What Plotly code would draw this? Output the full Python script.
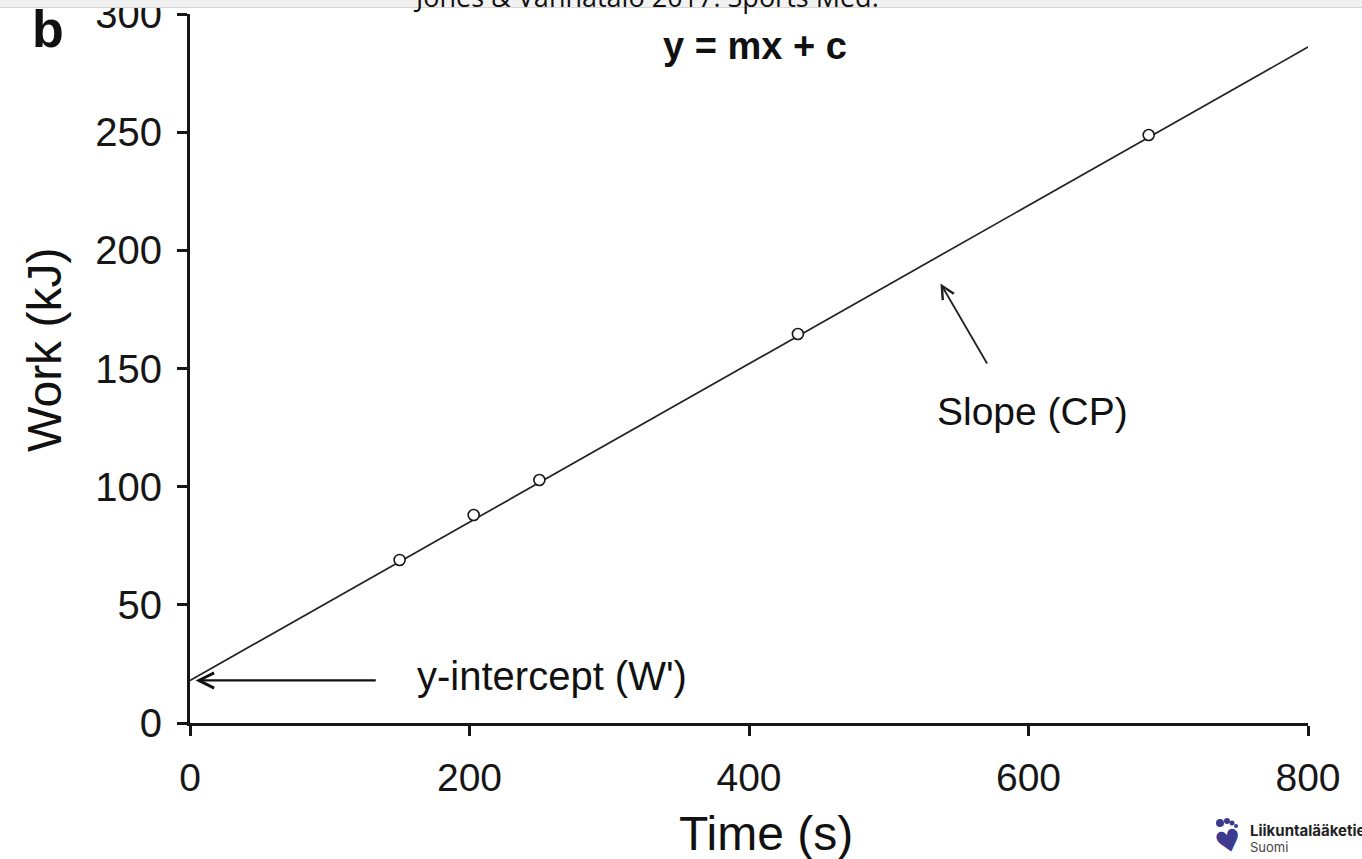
import plotly.graph_objects as go

# ---- data ----
time_s = [150, 203, 250, 435, 686]
work_kj = [69, 88, 102.8, 164.6, 248.8]
fit_time = [0, 800]
fit_work = [18, 286]
x_ticks = [0, 200, 400, 600, 800]
y_ticks = [0, 50, 100, 150, 200, 250, 300]

FONT = "Liberation Sans, Arial, sans-serif"
INK = "#161616"

fig = go.Figure()
fig.add_trace(go.Scatter(x=fit_time, y=fit_work, mode="lines",
                         line=dict(color="#222", width=1.7),
                         hoverinfo="skip", showlegend=False))
fig.add_trace(go.Scatter(x=time_s, y=work_kj, mode="markers",
                         marker=dict(symbol="circle", size=11, color="white",
                                     line=dict(color=INK, width=1.6)),
                         showlegend=False))

W, H = 1362, 859
L, R, T, B = 190, 54, 14, 136
pw, ph = W - L - R, H - T - B

def px(x):
    return (x - L) / pw

def py(y):
    return (H - B - y) / ph

fig.update_layout(
    width=W, height=H,
    margin=dict(l=L, r=R, t=T, b=B, autoexpand=False),
    paper_bgcolor="white", plot_bgcolor="white",
    font=dict(family=FONT, color=INK, size=40),
    xaxis=dict(range=[0, 800], tickvals=x_ticks, ticks="outside", ticklen=10,
               tickwidth=3, tickcolor=INK, showline=True, linewidth=3,
               linecolor=INK, showgrid=False, zeroline=False,
               tickfont=dict(size=39), ticklabelstandoff=8,
               ticklabeloverflow="allow"),
    yaxis=dict(range=[0, 300], tickvals=y_ticks, ticks="outside", ticklen=10,
               tickwidth=3, tickcolor=INK, showline=True, linewidth=3,
               linecolor=INK, showgrid=False, zeroline=False,
               tickfont=dict(size=40), ticklabelstandoff=7,
               ticklabeloverflow="allow"),
)

# grey strip at top of screenshot
fig.add_shape(type="rect", xref="paper", yref="paper",
              x0=px(0), x1=px(W), y0=py(7.5), y1=py(-2),
              fillcolor="#f1f1f1", line=dict(width=0), layer="above")
fig.add_shape(type="line", xref="paper", yref="paper",
              x0=px(0), x1=px(W), y0=py(7.5), y1=py(7.5),
              line=dict(color="#d6d6d6", width=1.2), layer="above")

ann = []
ann.append(dict(text="Time (s)", xref="paper", yref="paper", x=px(766), y=py(833),
                xanchor="center", yanchor="middle", showarrow=False,
                font=dict(size=48, color="#111")))
ann.append(dict(text="Work (kJ)", xref="paper", yref="paper", x=px(44), y=py(350),
                xanchor="center", yanchor="middle", showarrow=False, textangle=-90,
                font=dict(size=48, color="#111")))
ann.append(dict(text="Jones &amp; Vanhatalo 2017. Sports Med.", xref="paper", yref="paper",
                x=px(646), y=py(-4), xanchor="center", yanchor="middle",
                showarrow=False, font=dict(family="Open Sans, sans-serif", size=27, color="#111")))
ann.append(dict(text="<b>b</b>", xref="paper", yref="paper", x=px(48), y=py(29),
                xanchor="center", yanchor="middle", showarrow=False,
                font=dict(size=52, color="#111")))
ann.append(dict(text="<b>y = mx + c</b>", xref="paper", yref="paper", x=px(755), y=py(46),
                xanchor="center", yanchor="middle", showarrow=False,
                font=dict(size=38, color="#111")))
ann.append(dict(text="Slope (CP)", xref="paper", yref="paper", x=px(1032), y=py(411),
                xanchor="center", yanchor="middle", showarrow=False,
                font=dict(size=39, color="#111")))
ann.append(dict(text="y-intercept (W')", xref="paper", yref="paper", x=px(552), y=py(676),
                xanchor="center", yanchor="middle", showarrow=False,
                font=dict(size=40, color="#111")))
# arrows (tip at the line, tail in data coords)
ann.append(dict(text="", x=537, y=186, ax=571, ay=151.5, xref="x", yref="y",
                axref="x", ayref="y", showarrow=True, arrowhead=5, arrowsize=1.4,
                arrowwidth=1.8, arrowcolor="#222", standoff=0, startstandoff=0))
ann.append(dict(text="", x=4, y=18, ax=134, ay=18, xref="x", yref="y",
                axref="x", ayref="y", showarrow=True, arrowhead=5, arrowsize=1.3,
                arrowwidth=2.3, arrowcolor="#111", standoff=0, startstandoff=0))

# logo bottom right
ann.append(dict(text="♥", xref="paper", yref="paper", x=px(1228), y=py(841),
                xanchor="center", yanchor="middle", showarrow=False, textangle=-15,
                font=dict(family="DejaVu Sans", size=30, color="#3b3a8f")))
ann.append(dict(text="<b>Liikuntalääketiede</b>", xref="paper", yref="paper", x=px(1248), y=py(830),
                xanchor="left", yanchor="middle", showarrow=False,
                font=dict(family="Inter, sans-serif", size=15, color="#222")))
ann.append(dict(text="Suomi", xref="paper", yref="paper", x=px(1248), y=py(847),
                xanchor="left", yanchor="middle", showarrow=False,
                font=dict(family="Inter, sans-serif", size=13, color="#444")))
fig.update_layout(annotations=ann)

for cx, cy, r in [(1220, 823, 4), (1227, 821, 3), (1232, 823, 2.5), (1236, 826, 2)]:
    fig.add_shape(type="circle", xref="paper", yref="paper",
                  xsizemode="pixel", ysizemode="pixel",
                  xanchor=px(cx), yanchor=py(cy), x0=-r, x1=r, y0=-r, y1=r,
                  fillcolor="#3b3a8f", line=dict(width=0))

fig.write_html("out.html")
